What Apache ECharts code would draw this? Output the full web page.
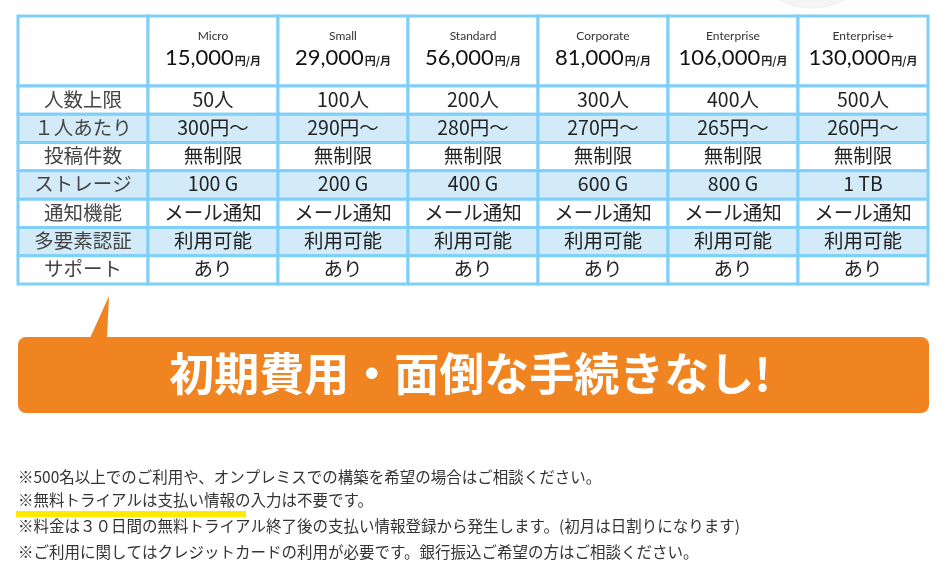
<!DOCTYPE html>
<html>
<head>
<meta charset="utf-8">
<script src="https://cdn.jsdelivr.net/npm/echarts@6/dist/echarts.min.js"></script>
<style>
  html, body { margin: 0; padding: 0; background: #fff; }
  #main { width: 950px; height: 584px; }
</style>
</head>
<body>
<div id="main"></div>
<script>
// プラン
const plans = ['Micro', 'Small', 'Standard', 'Corporate', 'Enterprise', 'Enterprise+'];
const prices = ['15,000', '29,000', '56,000', '81,000', '106,000', '130,000'];

// 行見出し
const rowLabels = ['人数上限', '１人あたり', '投稿件数', 'ストレージ', '通知機能', '多要素認証', 'サポート'];

// 各行の値
const members = ['50人', '100人', '200人', '300人', '400人', '500人'];
const perUser = ['300円～', '290円～', '280円～', '270円～', '265円～', '260円～'];
const posts = ['無制限', '無制限', '無制限', '無制限', '無制限', '無制限'];
const storage = ['100 G', '200 G', '400 G', '600 G', '800 G', '1 TB'];
const notify = ['メール通知', 'メール通知', 'メール通知', 'メール通知', 'メール通知', 'メール通知'];
const mfa = ['利用可能', '利用可能', '利用可能', '利用可能', '利用可能', '利用可能'];
const support = ['あり', 'あり', 'あり', 'あり', 'あり', 'あり'];

const headline = '初期費用・面倒な手続きなし!';
const notes = [
  '※500名以上でのご利用や、オンプレミスでの構築を希望の場合はご相談ください。',
  '※無料トライアルは支払い情報の入力は不要です。',
  '※料金は３０日間の無料トライアル終了後の支払い情報登録から発生します。(初月は日割りになります)',
  '※ご利用に関してはクレジットカードの利用が必要です。銀行振込ご希望の方はご相談ください。'
];

const rows = [members, perUser, posts, storage, notify, mfa, support];

const JP = '"Noto Sans CJK JP", "Noto Sans", sans-serif';
const BORDER = '#80cff8';
const STRIPE = '#d3ebf8';

// テーブル用データ
const headerData = [[0, 0, '', '']];
plans.forEach((p, i) => headerData.push([i + 1, 0, p, prices[i]]));

const bodyData = [];
rowLabels.forEach((label, r) => {
  bodyData.push([0, r, label]);
  rows[r].forEach((v, c) => bodyData.push([c + 1, r, v]));
});

function headerCell(params, api) {
  const c = api.coord([api.value(0), api.value(1)]);
  const s = api.size([1, 1]);
  const item = headerData[params.dataIndex];
  const children = [{
    type: 'rect',
    shape: { x: c[0] - s[0] / 2, y: c[1] - s[1] / 2, width: s[0], height: s[1] },
    style: { fill: '#fff', stroke: BORDER, lineWidth: 3 }
  }];
  if (item[2]) {
    children.push({
      type: 'text',
      style: {
        text: item[2], x: c[0], y: c[1] - 15,
        align: 'center', verticalAlign: 'middle',
        font: '12px Lato, sans-serif', fill: '#333'
      }
    });
    children.push({
      type: 'text',
      style: {
        text: '{p|' + item[3] + '}{u|円/月}', x: c[0], y: c[1] + 7,
        align: 'center', verticalAlign: 'middle',
        rich: {
          p: { fontFamily: 'Lato, sans-serif', fontSize: 22, fill: '#111' },
          u: { fontFamily: JP, fontSize: 11, fontWeight: 'bold', fill: '#222', padding: [6, 0, 0, 1] }
        }
      }
    });
  }
  return { type: 'group', children: children };
}

function bodyCell(params, api) {
  const c = api.coord([api.value(0), api.value(1)]);
  const s = api.size([1, 1]);
  const item = bodyData[params.dataIndex];
  const striped = item[1] % 2 === 1;
  return {
    type: 'group',
    children: [{
      type: 'rect',
      shape: { x: c[0] - s[0] / 2, y: c[1] - s[1] / 2, width: s[0], height: s[1] },
      style: { fill: striped ? STRIPE : '#fff', stroke: BORDER, lineWidth: 3 }
    }, {
      type: 'text',
      style: {
        text: item[2], x: c[0], y: c[1] - 1,
        align: 'center', verticalAlign: 'middle',
        font: '19.5px ' + JP, fill: item[0] === 0 ? '#444' : '#222'
      }
    }]
  };
}

const hiddenAxis = { axisLine: { show: false }, axisTick: { show: false }, axisLabel: { show: false }, splitLine: { show: false } };

const chart = echarts.init(document.getElementById('main'), null, { renderer: 'canvas' });

const noteGraphics = notes.map((t, i) => ({
  type: 'text',
  left: 18,
  top: [469, 492, 518, 544][i],
  z: 10,
  style: { text: t, font: '15.5px ' + JP, fill: '#333' }
}));

chart.setOption({
  animation: false,
  grid: [
    { left: 18, top: 16, width: 910, height: 70 },
    { left: 18, top: 86, width: 910, height: 198 }
  ],
  xAxis: [
    Object.assign({ type: 'category', gridIndex: 0, data: [''].concat(plans) }, hiddenAxis),
    Object.assign({ type: 'category', gridIndex: 1, data: [''].concat(plans) }, hiddenAxis)
  ],
  yAxis: [
    Object.assign({ type: 'category', gridIndex: 0, data: ['price'] }, hiddenAxis),
    Object.assign({ type: 'category', gridIndex: 1, inverse: true, data: rowLabels }, hiddenAxis)
  ],
  series: [
    { type: 'custom', xAxisIndex: 0, yAxisIndex: 0, data: headerData, renderItem: headerCell, silent: true },
    { type: 'custom', xAxisIndex: 1, yAxisIndex: 1, data: bodyData, renderItem: bodyCell, silent: true }
  ],
  graphic: [
    // 右上の薄い円
    { type: 'circle', shape: { cx: 812, cy: -62, r: 70 }, style: { fill: '#f5f5f5', stroke: '#eeeeee', lineWidth: 1 }, z: -1 },
    // 吹き出し
    { type: 'polygon', shape: { points: [[90, 338], [109, 296], [107, 338]] }, style: { fill: '#ef8421' } },
    { type: 'rect', shape: { x: 18, y: 337, width: 911, height: 76, r: 8 }, style: { fill: '#ef8421' } },
    {
      type: 'text', x: 470, y: 374,
      style: {
        text: headline, align: 'center', verticalAlign: 'middle',
        font: 'bold 45px ' + JP, fill: '#fff'
      }
    },
    // 黄色の下線
    { type: 'rect', shape: { x: 16, y: 511, width: 230, height: 6 }, style: { fill: '#ffea00' } }
  ].concat(noteGraphics)
});
</script>
</body>
</html>
